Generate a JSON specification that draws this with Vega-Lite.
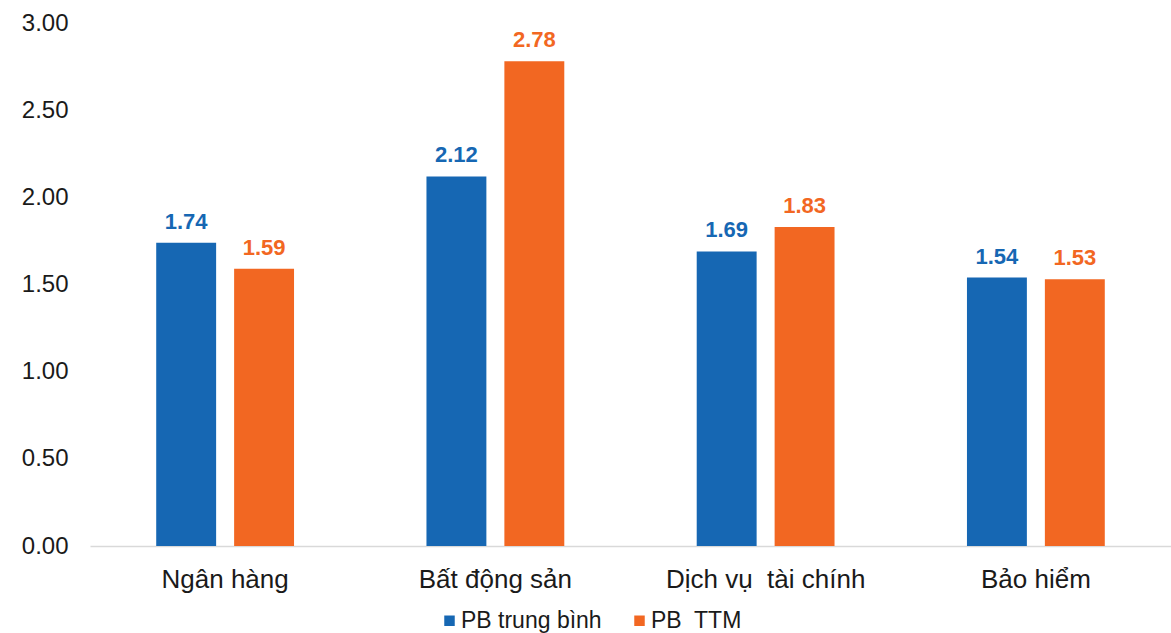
{
  "$schema": "https://vega.github.io/schema/vega-lite/v6.json",
  "autosize": {"type": "none"},
  "padding": {"left": 90, "top": 23, "right": 0, "bottom": 87},
  "width": 1081,
  "height": 523,
  "background": "#ffffff",
  "config": {
    "view": {"stroke": null},
    "font": "Liberation Sans"
  },
  "data": {
    "values": [
      {"nganh": "Ngân hàng", "chiso": "PB trung bình", "value": 1.74},
      {"nganh": "Ngân hàng", "chiso": "PB\u00a0 TTM", "value": 1.59},
      {"nganh": "Bất động sản", "chiso": "PB trung bình", "value": 2.12},
      {"nganh": "Bất động sản", "chiso": "PB\u00a0 TTM", "value": 2.78},
      {"nganh": "Dịch vụ\u00a0 tài chính", "chiso": "PB trung bình", "value": 1.69},
      {"nganh": "Dịch vụ\u00a0 tài chính", "chiso": "PB\u00a0 TTM", "value": 1.83},
      {"nganh": "Bảo hiểm", "chiso": "PB trung bình", "value": 1.54},
      {"nganh": "Bảo hiểm", "chiso": "PB\u00a0 TTM", "value": 1.53}
    ]
  },
  "encoding": {
    "x": {
      "field": "nganh", "type": "nominal", "sort": null,
      "scale": {"paddingInner": 0.49, "paddingOuter": 0.245},
      "axis": {
        "title": null, "labelAngle": 0, "ticks": false, "labelLimit": 0,
        "domainColor": "#d9d9d9", "domainWidth": 1.5,
        "labelFontSize": 26, "labelColor": "#1a1a1a", "labelPadding": 20
      }
    },
    "xOffset": {"field": "chiso", "type": "nominal", "sort": ["PB trung bình", "PB\u00a0 TTM"], "scale": {"paddingInner": 0.231}},
    "y": {
      "field": "value", "type": "quantitative",
      "scale": {"domain": [0, 3]},
      "axis": {
        "title": null, "values": [0, 0.5, 1, 1.5, 2, 2.5, 3], "format": ".2f",
        "grid": false, "domain": false, "ticks": false,
        "labelFontSize": 24, "labelColor": "#1a1a1a", "labelPadding": 22
      }
    },
    "color": {
      "field": "chiso", "type": "nominal", "sort": ["PB trung bình", "PB\u00a0 TTM"],
      "scale": {"domain": ["PB trung bình", "PB\u00a0 TTM"], "range": ["#1667B3", "#F26722"]},
      "legend": {
        "title": null, "orient": "none", "direction": "horizontal",
        "legendX": 348, "legendY": 586,
        "symbolType": "square", "symbolSize": 110, "symbolStrokeWidth": 0,
        "labelFontSize": 23, "labelColor": "#1a1a1a", "columnPadding": 26, "labelOffset": 0
      }
    }
  },
  "layer": [
    {"mark": {"type": "bar"}},
    {
      "mark": {"type": "text", "baseline": "bottom", "dy": -9, "fontSize": 22, "fontWeight": "bold"},
      "encoding": {"text": {"field": "value", "type": "quantitative", "format": ".2f"}}
    }
  ]
}
